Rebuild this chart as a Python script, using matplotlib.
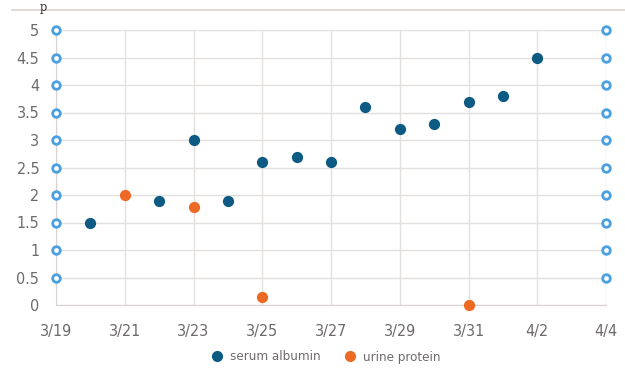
import matplotlib
matplotlib.use("Agg")
import matplotlib.pyplot as plt
import matplotlib.dates as mdates
from matplotlib.ticker import FuncFormatter
from matplotlib.lines import Line2D
import pandas as pd

# serum albumin readings
alb_dates = ["2020-03-20", "2020-03-22", "2020-03-23", "2020-03-24", "2020-03-25",
             "2020-03-26", "2020-03-27", "2020-03-28", "2020-03-29", "2020-03-30",
             "2020-03-31", "2020-04-01", "2020-04-02"]
alb_vals = [1.5, 1.9, 3.0, 1.9, 2.6, 2.7, 2.6, 3.6, 3.2, 3.3, 3.7, 3.8, 4.5]

# urine protein readings
uri_dates = ["2020-03-21", "2020-03-23", "2020-03-25", "2020-03-31"]
uri_vals = [2.0, 1.78, 0.15, 0.0]

x_ticks = pd.date_range("2020-03-19", "2020-04-04", freq="2D")
y_ticks = [0, 0.5, 1, 1.5, 2, 2.5, 3, 3.5, 4, 4.5, 5]
axis_marks = y_ticks[1:]

c_alb = "#0d5a82"
c_uri = "#ec6a24"
c_axis_mark = "#4aa0e0"
c_grid = "#e4e0de"
c_text = "#6e6a6a"

plt.rcParams["font.family"] = ["DejaVu Sans"]
plt.rcParams["font.stretch"] = "condensed"

fig = plt.figure(figsize=(6.25, 3.78), dpi=100)
ax = fig.add_axes([56 / 625, 1 - 305 / 378, 550 / 625, 275 / 378])

ax.scatter(pd.to_datetime(alb_dates), alb_vals, s=50, color=c_alb, zorder=3,
           label="serum albumin")
ax.scatter(pd.to_datetime(uri_dates), uri_vals, s=50, color=c_uri, zorder=3,
           clip_on=False, label="urine protein")

ax.set_xlim(x_ticks[0], x_ticks[-1])
ax.set_ylim(0, 5)
ax.set_xticks(x_ticks)
ax.xaxis.set_major_formatter(FuncFormatter(
    lambda v, p: f"{mdates.num2date(v).month}/{mdates.num2date(v).day}"))
ax.set_yticks(y_ticks)
ax.yaxis.set_major_formatter(FuncFormatter(lambda v, p: f"{v:g}"))

ax.grid(True, color=c_grid, linewidth=1)
ax.set_axisbelow(True)
for side in ["top", "right"]:
    ax.spines[side].set_visible(False)
for side in ["left", "bottom"]:
    ax.spines[side].set_color("#d8d2d0")
ax.tick_params(length=0, colors=c_text, labelsize=11.5, pad=14)
ax.tick_params(axis="y", pad=12)

# hollow markers along both y axes
for xa in [0, 1]:
    ax.scatter([xa] * len(axis_marks), axis_marks, s=30, facecolor="white",
               edgecolor=c_axis_mark, linewidth=2,
               transform=ax.get_yaxis_transform(), clip_on=False, zorder=4)

# top rule and heading fragment from the scanned page
fig.add_artist(Line2D([12 / 625, 1], [1 - 10 / 378] * 2, color="#d8d4d2", linewidth=1.2))
fig.text(40 / 625, 1 - 1 / 378, "p", fontsize=9, color="#333333",
         family="DejaVu Serif", va="top")

handles = [Line2D([], [], marker="o", linestyle="", color=c_alb, markersize=7),
           Line2D([], [], marker="o", linestyle="", color=c_uri, markersize=7)]
fig.legend(handles, ["serum albumin", "urine protein"], loc="center",
           bbox_to_anchor=(322 / 625, 1 - 357 / 378), ncol=2, frameon=False,
           fontsize=9.5, handletextpad=0.0, columnspacing=1.2,
           labelcolor=c_text)

fig.savefig("out.png", dpi=100, facecolor="white")
